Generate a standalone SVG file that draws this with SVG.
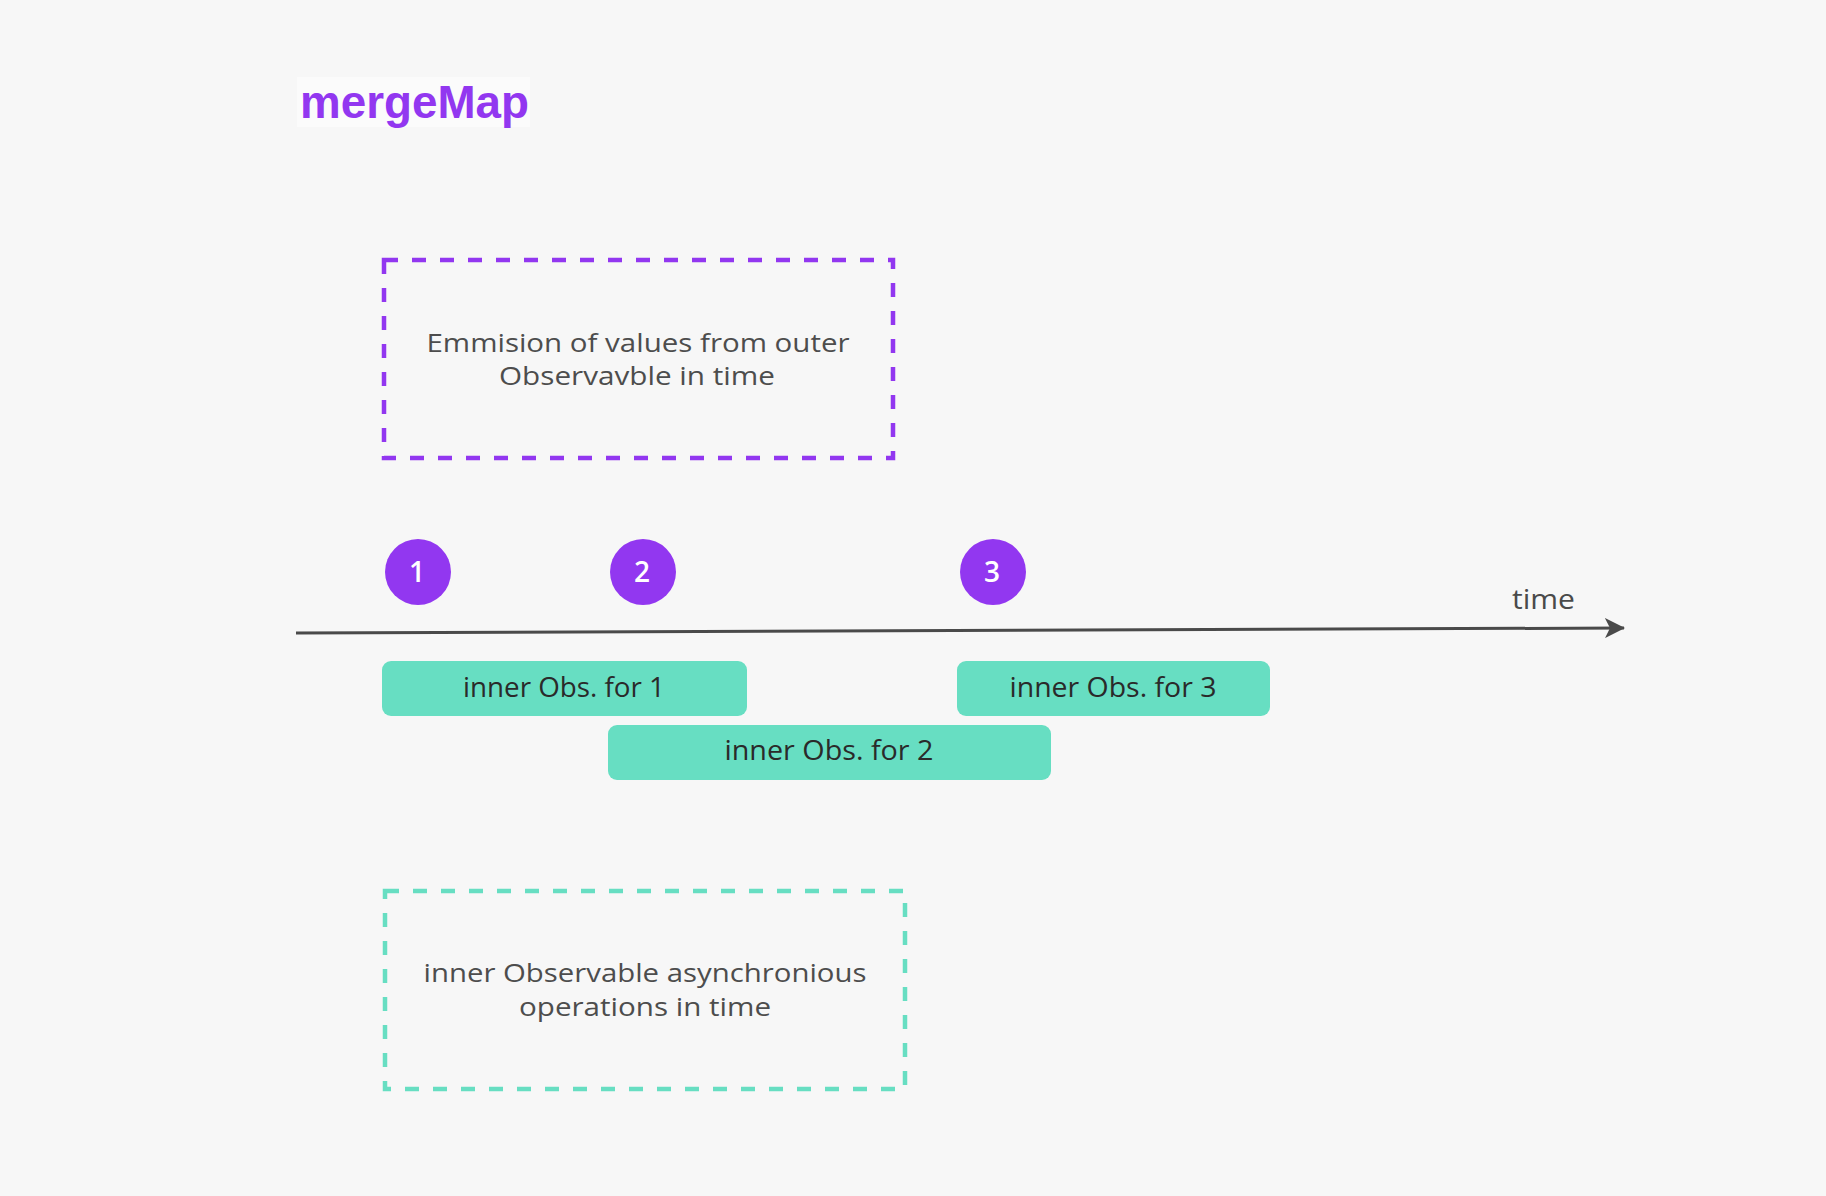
<svg xmlns="http://www.w3.org/2000/svg" width="1826" height="1196" viewBox="0 0 1826 1196">
  <defs>
    <style>
      .title { font-family: "Liberation Sans", Arial, sans-serif; font-weight: bold; font-size: 46px; fill: #9237f0; }
      .note { font-family: "Open Sans", "DejaVu Sans", sans-serif; font-size: 26px; fill: #4d4d4d; text-anchor: middle; }
      .dashP { fill: none; stroke: #9237f0; stroke-width: 4.5; stroke-dasharray: 14 14; }
      .dashT { fill: none; stroke: #67dec2; stroke-width: 4.5; stroke-dasharray: 14 14; }
      .emit { fill: #9237f0; }
      .num { font-family: "Open Sans", "DejaVu Sans", sans-serif; font-weight: 600; font-size: 28px; fill: #ffffff; text-anchor: middle; }
      .bar { fill: #67dec2; }
      .barText { font-family: "Open Sans", "DejaVu Sans", sans-serif; font-weight: 500; font-size: 28px; fill: #2a2a2a; text-anchor: middle; }
      .axis { fill: none; stroke: #4a4a4a; stroke-width: 3; }
      .axisLabel { font-family: "Open Sans", "DejaVu Sans", sans-serif; font-size: 27px; fill: #4a4a4a; }
    </style>
    <marker id="arrow" viewBox="0 0 20 20" markerWidth="20" markerHeight="20" refX="19" refY="10" orient="auto" markerUnits="userSpaceOnUse">
      <path d="M0,0 L20,10 L0,20 L5,10 Z" fill="#4a4a4a"/>
    </marker>
  </defs>

  <rect x="0" y="0" width="1826" height="1196" fill="#f7f7f7"/>

  <g id="title">
    <rect x="297" y="77" width="233" height="50" fill="#fbfbfb"/>
    <text class="title" x="300" y="118" textLength="229" lengthAdjust="spacingAndGlyphs">mergeMap</text>
  </g>

  <g id="outer-note">
    <rect class="dashP" x="384" y="260" width="509" height="198"/>
    <text class="note" x="638" y="352" textLength="423" lengthAdjust="spacingAndGlyphs">Emmision of values from outer</text>
    <text class="note" x="637" y="385" textLength="276" lengthAdjust="spacingAndGlyphs">Observavble in time</text>
  </g>

  <g id="connectors">
    <path class="axis" d="M296,633 L1624,628" marker-end="url(#arrow)"/>
  </g>

  <g id="time-label">
    <text class="axisLabel" x="1512" y="609" textLength="63" lengthAdjust="spacingAndGlyphs">time</text>
  </g>

  <g id="emit-1">
    <circle class="emit" cx="418" cy="572" r="33"/>
    <text class="num" x="417" y="582">1</text>
  </g>
  <g id="emit-2">
    <circle class="emit" cx="643" cy="572" r="33"/>
    <text class="num" x="642" y="582">2</text>
  </g>
  <g id="emit-3">
    <circle class="emit" cx="993" cy="572" r="33"/>
    <text class="num" x="992" y="582">3</text>
  </g>

  <g id="inner-1">
    <rect class="bar" x="382" y="661" width="365" height="55" rx="9"/>
    <text class="barText" x="564" y="697" textLength="202" lengthAdjust="spacingAndGlyphs">inner Obs. for 1</text>
  </g>
  <g id="inner-2">
    <rect class="bar" x="608" y="725" width="443" height="55" rx="9"/>
    <text class="barText" x="829" y="760" textLength="209" lengthAdjust="spacingAndGlyphs">inner Obs. for 2</text>
  </g>
  <g id="inner-3">
    <rect class="bar" x="957" y="661" width="313" height="55" rx="9"/>
    <text class="barText" x="1113" y="697" textLength="207" lengthAdjust="spacingAndGlyphs">inner Obs. for 3</text>
  </g>

  <g id="inner-note">
    <rect class="dashT" x="385" y="891" width="520" height="198"/>
    <text class="note" x="645" y="982" textLength="443" lengthAdjust="spacingAndGlyphs">inner Observable asynchronious</text>
    <text class="note" x="645" y="1016" textLength="252" lengthAdjust="spacingAndGlyphs">operations in time</text>
  </g>
</svg>
